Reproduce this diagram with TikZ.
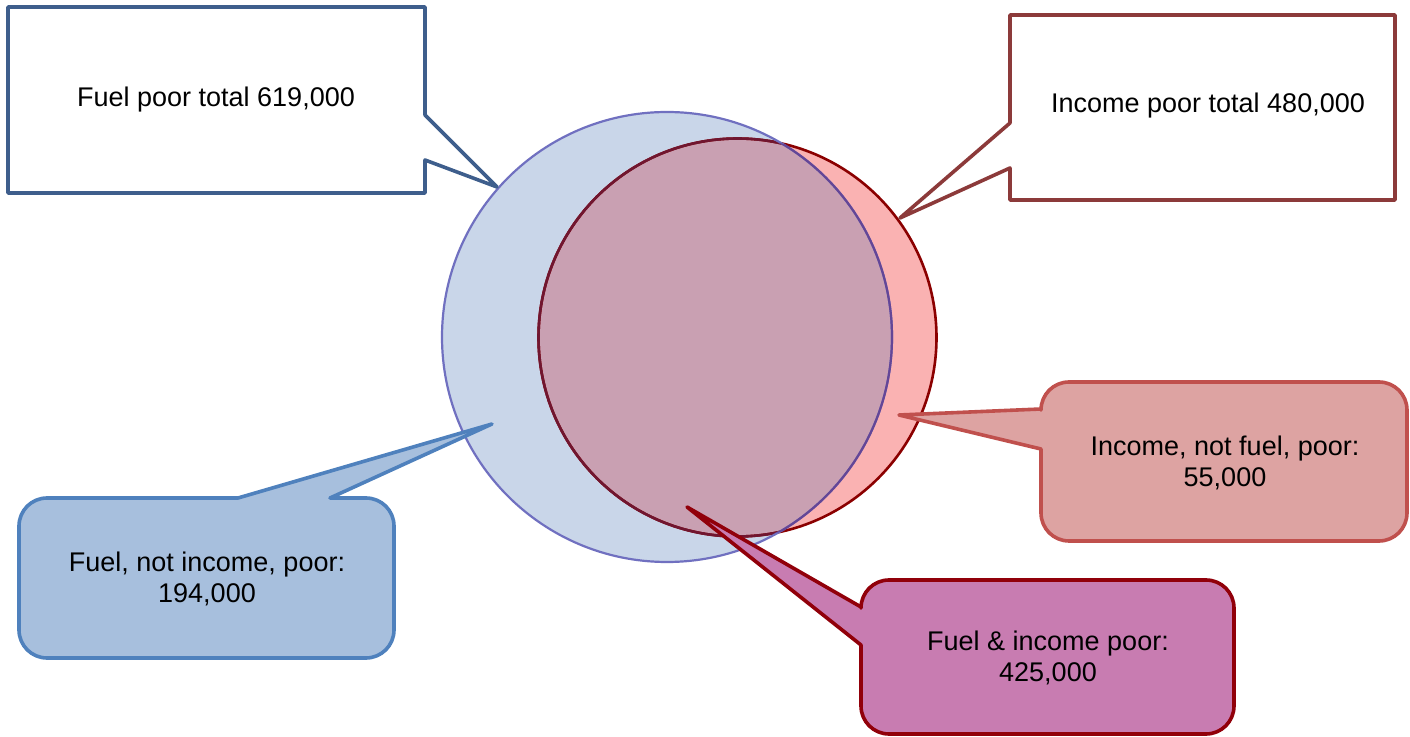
\documentclass[tikz,border=0pt]{standalone}
\usepackage{fontspec}
\setmainfont{Liberation Sans}
\definecolor{cBlueFill}{RGB}{201,214,233}
\definecolor{cBlueLine}{RGB}{112,112,192}
\definecolor{cRedFill}{RGB}{250,178,178}
\definecolor{cOverlap}{RGB}{201,160,178}
\definecolor{cRedLine}{RGB}{139,0,0}
\definecolor{cRedLineDim}{RGB}{112,22,48}
\definecolor{cBlueLineDim}{RGB}{100,70,150}
\definecolor{cBoxOneLine}{RGB}{62,94,140}
\definecolor{cBoxTwoLine}{RGB}{140,58,58}
\definecolor{cBoxThreeFill}{RGB}{167,191,221}
\definecolor{cBoxThreeLine}{RGB}{79,129,189}
\definecolor{cBoxFourFill}{RGB}{221,163,162}
\definecolor{cBoxFourLine}{RGB}{192,80,77}
\definecolor{cBoxFiveFill}{RGB}{200,124,177}
\definecolor{cBoxFiveLine}{RGB}{145,0,10}
\tikzset{
  callbox/.style={line width=1.8pt, line join=round},
  lbl/.style={font=\fontsize{13.5}{15.5}\selectfont, align=center, text=black, inner sep=0pt},
}
\begin{document}
\begin{tikzpicture}[x=0.5pt,y=-0.5pt]
\useasboundingbox (0,0) rectangle (1410,737);
% circle centres
\coordinate (cF) at (667,337);
\coordinate (cI) at (737.5,337.5);
% Venn circles
\fill[cBlueFill] (cF) circle[radius=112.5pt];
\fill[cRedFill] (cI) circle[radius=99.5pt];
\begin{scope}
  \clip (cF) circle[radius=112.5pt];
  \fill[cOverlap] (cI) circle[radius=99.5pt];
\end{scope}
\draw[cRedLine, line width=1.3pt] (cI) circle[radius=99.5pt];
\begin{scope}
  \clip (cF) circle[radius=112.5pt];
  \draw[cRedLineDim, line width=1.3pt] (cI) circle[radius=99.5pt];
\end{scope}
\draw[cBlueLine, line width=1.1pt] (cF) circle[radius=112.5pt];
\begin{scope}
  \clip (cI) circle[radius=99.5pt];
  \draw[cBlueLineDim, line width=1.1pt] (cF) circle[radius=112.5pt];
\end{scope}
% pointer tips
\coordinate (tA) at (497,187);
\coordinate (tB) at (900,218);
\coordinate (tC) at (492,424);
\coordinate (tD) at (899,415);
\coordinate (tE) at (687,507);
% Box 1: Fuel poor total
\filldraw[callbox, fill=white, draw=cBoxOneLine]
  (8,7) -- (425,7) -- (425,115) -- (tA) -- (425,160) -- (425,193) -- (8,193) -- cycle;
\node[lbl] (n1) at (216,100) {Fuel poor total 619,000};
% Box 2: Income poor total
\filldraw[callbox, fill=white, draw=cBoxTwoLine]
  (1010,15) -- (1395,15) -- (1395,200) -- (1010,200) -- (1010,168) -- (tB) -- (1010,123) -- cycle;
\node[lbl] (n2) at (1208,106) {Income poor total 480,000};
% Box 3: Fuel, not income
\filldraw[callbox, fill=cBoxThreeFill, draw=cBoxThreeLine]
  (19,578) [rounded corners=14pt] -- (19,498) [sharp corners] -- (238,498) -- (tC) -- (330,498)
  [rounded corners=14pt] -- (394,498) -- (394,658) -- (19,658) -- cycle;
\node[lbl] (n3) at (207,579) {Fuel, not income, poor:\\194,000};
% Box 4: Income, not fuel
\filldraw[callbox, fill=cBoxFourFill, draw=cBoxFourLine]
  (1220,541) [rounded corners=14pt] -- (1041,541) [sharp corners] -- (1041,449) -- (tD) -- (1041,409)
  [rounded corners=14pt] -- (1041,382) -- (1407,382) -- (1407,541) -- cycle;
\node[lbl] (n4) at (1225,463) {Income, not fuel, poor:\\55,000};
% Box 5: Fuel & income
\filldraw[callbox, fill=cBoxFiveFill, draw=cBoxFiveLine]
  (1050,734) [rounded corners=14pt] -- (861,734) [sharp corners] -- (861,645) -- (tE) -- (861,607)
  [rounded corners=14pt] -- (861,580) -- (1234,580) -- (1234,734) -- cycle;
\node[lbl] (n5) at (1048,658) {Fuel \& income poor:\\425,000};
\end{tikzpicture}
\end{document}
